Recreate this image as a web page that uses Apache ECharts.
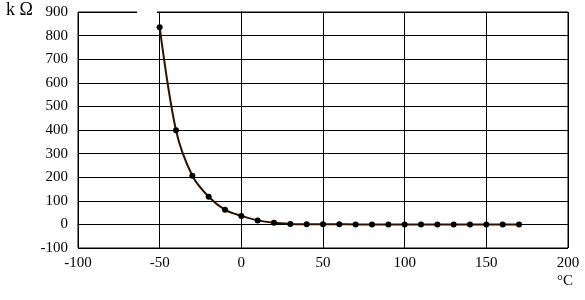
<!DOCTYPE html>
<html>
<head>
<meta charset="utf-8">
<script src="https://cdn.jsdelivr.net/npm/echarts@6/dist/echarts.min.js"></script>
<style>html,body{margin:0;padding:0;background:#fff}#c{width:585px;height:300px}</style>
</head>
<body>
<div id="c"></div>
<script>
var temps = [-50, -40, -30, -20, -10, 0, 10, 20, 30, 40, 50, 60, 70, 80, 90, 100, 110, 120, 130, 140, 150, 160, 170];
var resistance = [835, 399, 206, 117, 62, 36, 17, 6.5, 2, 0.8, 0.4, 0.2, 0.1, 0.1, 0.05, 0.05, 0.05, 0.03, 0.03, 0.02, 0.02, 0.02, 0.01];
var yUnit = 'k \u03A9';
var xUnit = '\u00B0C';

var chart = echarts.init(document.getElementById('c'));
var font = '"Liberation Serif", "Times New Roman", serif';
chart.setOption({
  animation: false,
  grid: {left: 78, right: 17, top: 12, bottom: 52, show: true, borderColor: '#000', borderWidth: 1},
  xAxis: {
    type: 'value', min: -100, max: 200, interval: 50,
    axisLine: {show: true, lineStyle: {color: '#000', width: 1}},
    axisTick: {show: false},
    splitLine: {show: true, lineStyle: {color: '#000', width: 1}},
    axisLabel: {color: '#000', fontFamily: font, fontSize: 15, margin: 8}
  },
  yAxis: {
    type: 'value', min: -100, max: 900, interval: 100,
    axisLine: {show: true, lineStyle: {color: '#000', width: 1}},
    axisTick: {show: false},
    splitLine: {show: true, lineStyle: {color: '#000', width: 1}},
    axisLabel: {color: '#000', fontFamily: font, fontSize: 15, margin: 10}
  },
  series: [{
    type: 'line',
    data: temps.map(function (t, i) { return [t, resistance[i]]; }),
    smooth: 0.3,
    symbol: 'circle', symbolSize: 6,
    lineStyle: {color: '#2e1200', width: 2},
    itemStyle: {color: '#000'}
  }],
  graphic: [
    {type: 'rect', shape: {x: 137, y: 10, width: 20, height: 4}, style: {fill: '#fff'}, z: 100},
    {type: 'text', left: 6, top: 1, style: {text: yUnit, font: '18px ' + font, fill: '#000'}},
    {type: 'text', left: 557, top: 274, style: {text: xUnit, font: '15px ' + font, fill: '#000'}}
  ]
});
</script>
</body>
</html>
